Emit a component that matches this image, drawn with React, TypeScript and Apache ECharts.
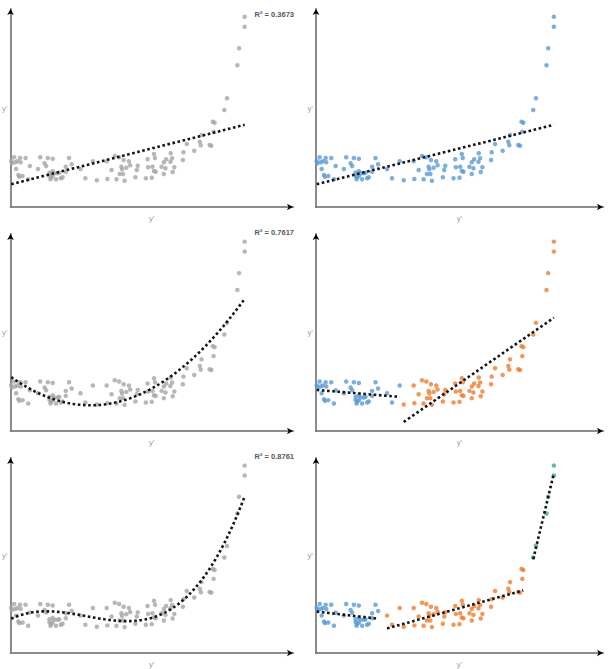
import React, { useEffect, useRef } from "react";
import * as echarts from "echarts";

// Observed points (same set in every panel)
const xs = [
  0.7, 1.3, 3.7, 4.7, 5.7, 7, 8, 9, 9.7, 10.3, 12.3, 15.3, 18, 19.7, 28, 30.3, 34.7, 36.3, 38, 39.7,
  39.7, 40.7, 41.3, 43, 43, 43, 44.7, 46.3, 48, 49.7, 51.3, 53, 56.3, 56.3, 59.7, 62.3, 71.3, 76.3, 84, 88,
  98, 98.7, 103, 106.3, 108, 110.7, 111.3, 113, 113.7, 114.7, 115.3, 116.3, 118, 120.7, 122, 127.3, 128.7, 129.7, 138, 139.7,
  140.3, 144, 144.7, 146.3, 146.3, 147.3, 148, 154, 156.3, 156.3, 158, 158.7, 163, 163.3, 164.7, 165.3, 167, 175.7, 176.3, 179.7,
  187.3, 193, 194, 194.7, 203, 204.7, 206.3, 207, 208, 218, 220.7, 231.3, 233, 238.7, 238.7,
];
const ys = [
  46, 43.7, 49.7, 44.7, 38, 45.7, 32, 30.3, 49, 44.7, 31, 49, 27.7, 41, 38, 49.7, 43.7, 41, 49, 34.3,
  31.3, 27.7, 29.7, 48.3, 35.7, 31, 33.7, 27.7, 33.7, 34.3, 28.7, 29.7, 40.3, 35.3, 49, 42.7, 38, 28.7, 45.7, 26.7,
  45.7, 28, 37, 51, 27.7, 49.7, 33, 40.3, 37.7, 33, 47, 26.3, 39.3, 45.7, 41.7, 29.7, 37, 41.3, 28.7, 47.7,
  39.7, 29.3, 40.3, 53, 36, 49, 35.3, 40.3, 44.7, 33, 38.7, 47.7, 45.3, 53.7, 48.7, 35, 39.7, 47, 54.7, 63,
  56.3, 65.3, 61.7, 72, 62, 61.3, 85.3, 75.3, 84.3, 97, 108.7, 141.7, 158.7, 180.3, 190.3,
];

const r2Labels = ["R² = 0.3673", "R² = 0.7617", "R² = 0.8761"];
const axisTitle = "y'";
const row2Breaks = [86];
const row3Breaks = [66, 212];

const GRAY = "#a5a5a5";
const BLUE = "#5b9bd5";
const ORANGE = "#ed7d31";
const GREEN = "#3fa690";
const segColors = [BLUE, ORANGE, GREEN];

function polyfit(x: number[], y: number[], deg: number): number[] {
  const n = deg + 1;
  const s = 100;
  const A: number[][] = [];
  for (let i = 0; i < n; i++) {
    A.push(new Array(n + 1).fill(0));
  }
  for (let k = 0; k < x.length; k++) {
    const xv = x[k] / s;
    for (let i = 0; i < n; i++) {
      for (let j = 0; j < n; j++) A[i][j] += Math.pow(xv, i + j);
      A[i][n] += Math.pow(xv, i) * y[k];
    }
  }
  for (let c = 0; c < n; c++) {
    let p = c;
    for (let r = c + 1; r < n; r++) if (Math.abs(A[r][c]) > Math.abs(A[p][c])) p = r;
    [A[c], A[p]] = [A[p], A[c]];
    for (let r = 0; r < n; r++) {
      if (r === c) continue;
      const f = A[r][c] / A[c][c];
      for (let j = c; j <= n; j++) A[r][j] -= f * A[c][j];
    }
  }
  return A.map((row, i) => row[n] / row[i]);
}

function curve(x: number[], y: number[], deg: number): number[][] {
  const co = polyfit(x, y, deg);
  const lo = Math.min(...x);
  const hi = Math.max(...x);
  const out: number[][] = [];
  const N = 120;
  for (let i = 0; i <= N; i++) {
    const xv = lo + ((hi - lo) * i) / N;
    let yv = 0;
    co.forEach((c, p) => (yv += c * Math.pow(xv / 100, p)));
    out.push([xv, yv]);
  }
  return out;
}

function split(breaks: number[]) {
  const groups: { x: number[]; y: number[] }[] = [];
  for (let i = 0; i <= breaks.length; i++) groups.push({ x: [], y: [] });
  xs.forEach((xv, i) => {
    let g = 0;
    while (g < breaks.length && xv >= breaks[g]) g++;
    groups[g].x.push(xv);
    groups[g].y.push(ys[i]);
  });
  return groups;
}

export default function App() {
  const ref = useRef<HTMLDivElement>(null);
  useEffect(() => {
    if (!ref.current) return;
    const chart = echarts.init(ref.current, null, { renderer: "svg" });
    const font = "Liberation Sans";
    const lefts = [6, 316];
    const tops = [9, 234, 458];
    const heights = [198, 197, 198];
    const grids: any[] = [];
    const xAxes: any[] = [];
    const yAxes: any[] = [];
    const series: any[] = [];
    const dotted = { color: "#151515", width: 2.6, type: [2.6, 2.6] as any, cap: "butt" };

    for (let r = 0; r < 3; r++) {
      for (let c = 0; c < 2; c++) {
        const g = r * 2 + c;
        grids.push({ left: lefts[c], top: tops[r], width: 287, height: heights[r] });
        const common = { type: "value", min: 0, gridIndex: g, splitLine: { show: false }, axisTick: { show: false }, axisLabel: { show: false } };
        xAxes.push({
          ...common, max: 288, position: "bottom",
          name: axisTitle, nameLocation: "middle", nameGap: 7,
          nameTextStyle: { color: "#a0a0a0", fontSize: 8, fontFamily: font },
          axisLine: { show: true, lineStyle: { color: "#000", width: 1.5 }, symbol: ["none", "arrow"], symbolSize: [5, 6] },
        });
        xAxes.push({ ...common, max: 288, position: "bottom", axisLine: { show: true, lineStyle: { color: "#a6a6a6", width: 1.5 } } });
        yAxes.push({
          ...common, max: 198, position: "left",
          name: axisTitle, nameLocation: "middle", nameGap: 3, nameRotate: 0,
          nameTextStyle: { color: "#a0a0a0", fontSize: 8, fontFamily: font },
          axisLine: { show: true, lineStyle: { color: "#000", width: 1.5 }, symbol: ["none", "arrow"], symbolSize: [5, 6] },
        });
        yAxes.push({ ...common, max: 198, position: "left", axisLine: { show: true, lineStyle: { color: "#a6a6a6", width: 1.5 } } });

        const xi = g * 2;
        const scatter = (px: number[], py: number[], color: string) => ({
          type: "scatter", xAxisIndex: xi, yAxisIndex: xi, symbolSize: 4.5,
          itemStyle: { color }, data: px.map((v, i) => [v, py[i]]), z: 2,
        });
        const line = (data: number[][]) => ({
          type: "line", xAxisIndex: xi, yAxisIndex: xi, showSymbol: false, symbol: "none",
          lineStyle: dotted, data, z: 3, silent: true,
        });

        if (c === 0) {
          series.push(scatter(xs, ys, GRAY));
          series.push(line(curve(xs, ys, r === 0 ? 1 : r === 1 ? 2 : 3)));
        } else if (r === 0) {
          series.push(scatter(xs, ys, BLUE));
          series.push(line(curve(xs, ys, 1)));
        } else {
          const groups = split(r === 1 ? row2Breaks : row3Breaks);
          groups.forEach((gr, k) => {
            series.push(scatter(gr.x, gr.y, segColors[k]));
            series.push(line(curve(gr.x, gr.y, 1)));
          });
        }
      }
    }

    const r2Tops = [10, 228, 452];
    const graphic = r2Labels.map((t, i) => ({
      type: "text", right: 317, top: r2Tops[i],
      style: { text: t, fill: "#595959", fontSize: 7.5, fontWeight: "bold", fontFamily: font },
    }));

    chart.setOption({
      animation: false,
      backgroundColor: "#fff",
      grid: grids,
      xAxis: xAxes,
      yAxis: yAxes,
      series,
      graphic,
    });
    return () => chart.dispose();
  }, []);
  return <div ref={ref} style={{ position: "fixed", left: 0, top: 0, width: 611, height: 669 }} />;
}
